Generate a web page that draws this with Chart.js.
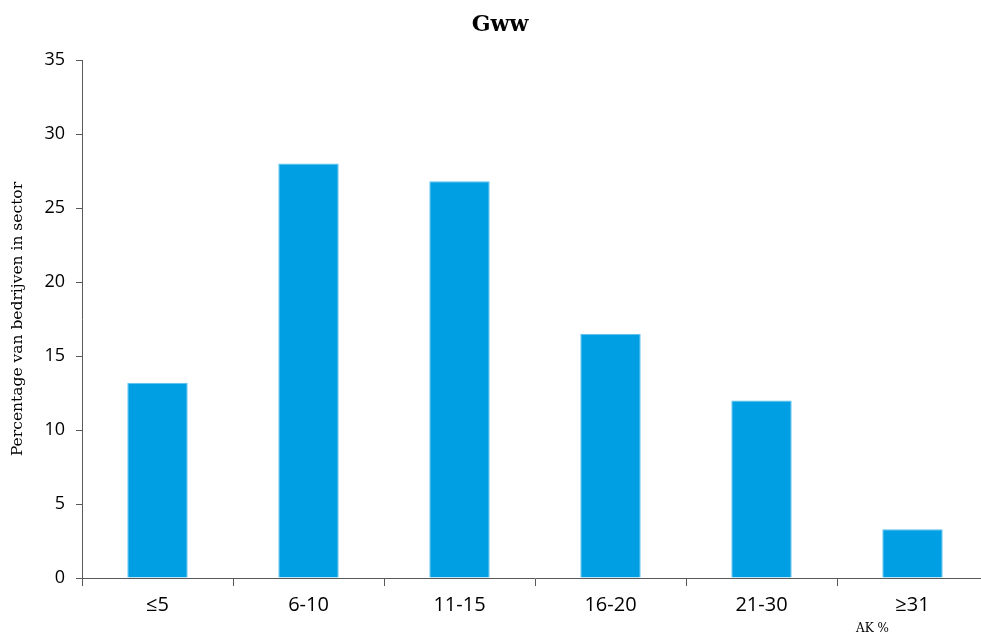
<!DOCTYPE html>
<html>
<head>
<meta charset="utf-8">
<script src="https://cdn.jsdelivr.net/npm/chart.js@4/dist/chart.umd.min.js"></script>
<style>
html, body { margin: 0; padding: 0; background: #fff; overflow: hidden; }
/* the plot runs a few pixels past the right edge in the reference, so the canvas is wider than the window */
#wrap { width: 988px; height: 637px; }
</style>
</head>
<body>
<div id="wrap"><canvas id="chart"></canvas></div>
<script>
// data
const categories = ['≤5', '6-10', '11-15', '16-20', '21-30', '≥31'];
const percentages = [13.2, 28.0, 26.8, 16.5, 12.0, 3.3];
const yTickValues = [0, 5, 10, 15, 20, 25, 30, 35];

const axisColor = '#595959';

// chart title (sits a little right of page centre) and the small note under the last category
const extraText = {
    id: 'extraText',
    afterDraw(chart) {
        const ctx = chart.ctx;
        const x = chart.scales.x;
        ctx.save();
        ctx.fillStyle = '#000';
        ctx.textAlign = 'center';
        ctx.textBaseline = 'middle';
        ctx.font = 'bold 22px "DejaVu Serif"';
        ctx.fillText('Gww', 500, 25);
        ctx.font = '12px "DejaVu Serif"';
        ctx.fillText('AK %', x.getPixelForValue(categories.length - 1) - 40, 629);
        ctx.restore();
    }
};

new Chart(document.getElementById('chart'), {
    type: 'bar',
    data: {
        labels: categories,
        datasets: [{
            data: percentages,
            backgroundColor: '#009FE3',
            borderColor: '#5BC0EE',
            borderWidth: 1,
            categoryPercentage: 1,
            barPercentage: 0.4
        }]
    },
    options: {
        responsive: true,
        maintainAspectRatio: false,
        animation: false,
        layout: { padding: { top: 60 } },
        plugins: {
            legend: { display: false },
            tooltip: { enabled: false },
            title: { display: false }
        },
        scales: {
            x: {
                grid: { display: true, drawOnChartArea: false, drawTicks: true, tickLength: 8, color: axisColor, offset: true },
                border: { display: true, color: axisColor },
                ticks: { color: '#000', font: { family: '"Open Sans"', size: 20 }, padding: 7 },
                afterFit(scale) { scale.height = 59; }
            },
            y: {
                min: 0,
                max: 35,
                afterBuildTicks(scale) { scale.ticks = yTickValues.map(v => ({ value: v })); },
                grid: { display: true, drawOnChartArea: false, drawTicks: true, tickLength: 6, color: axisColor },
                border: { display: true, color: axisColor },
                ticks: { color: '#000', font: { family: '"Open Sans"', size: 18 }, padding: 11 },
                title: {
                    display: true,
                    text: 'Percentage van bedrijven in sector',
                    color: '#000',
                    font: { family: '"DejaVu Serif"', size: 15.5 },
                    padding: { top: 9, bottom: 0 }
                },
                afterFit(scale) { scale.width = 82; }
            }
        }
    },
    plugins: [extraText]
});
</script>
</body>
</html>
